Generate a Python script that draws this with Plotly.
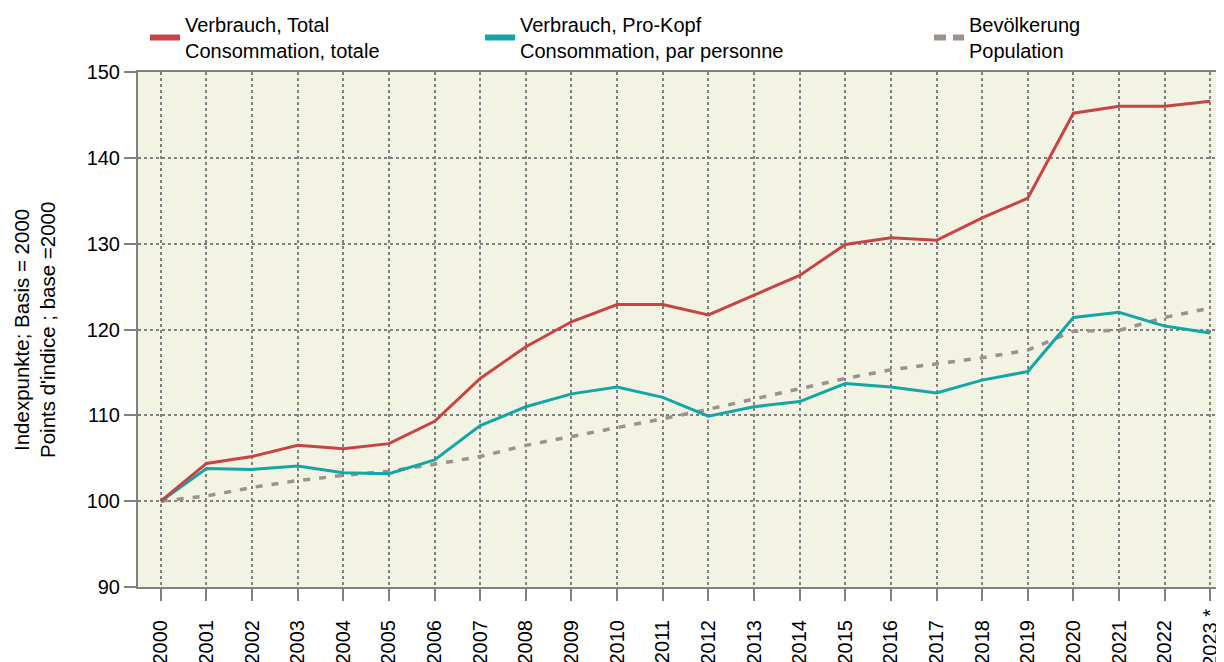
import plotly.graph_objects as go

years = ["2000", "2001", "2002", "2003", "2004", "2005", "2006", "2007", "2008", "2009", "2010", "2011",
         "2012", "2013", "2014", "2015", "2016", "2017", "2018", "2019", "2020", "2021", "2022", "2023 *"]
total = [100.0, 104.4, 105.2, 106.5, 106.1, 106.7, 109.3, 114.3, 118.0, 120.9, 122.9, 122.9,
         121.7, 124.0, 126.3, 129.9, 130.7, 130.4, 133.0, 135.3, 145.2, 146.0, 146.0, 146.6]
per_capita = [100.0, 103.8, 103.7, 104.1, 103.3, 103.2, 104.8, 108.8, 111.0, 112.5, 113.3, 112.1,
              109.9, 111.0, 111.6, 113.7, 113.3, 112.6, 114.1, 115.1, 121.4, 122.0, 120.4, 119.6]
population = [100.0, 100.6, 101.6, 102.4, 103.0, 103.5, 104.3, 105.2, 106.5, 107.5, 108.5, 109.6,
              110.7, 111.9, 113.1, 114.3, 115.3, 116.0, 116.7, 117.6, 119.8, 119.9, 121.4, 122.5]

names = ["Verbrauch, Total<br>Consommation, totale",
         "Verbrauch, Pro-Kopf<br>Consommation, par personne",
         "Bevölkerung<br>Population"]
colors = ["#C84444", "#13A6A6", "#9C918D"]
y_title = ["Indexpunkte; Basis = 2000", "Points d'indice ; base =2000"]

FONT = "Liberation Sans, Arial, sans-serif"
x_idx = list(range(len(years)))
# pad labels so that the year digits line up like in the original (the last one carries " *")
tick_text = [y if "*" in y else y + "\u00a0\u00a0" for y in years]

# the page body adds an 8px offset; figure is sized so that it fills the 1224x662 window
OFF = 8
W, H = 1224 - OFF, 662 - OFF
L, R, T, B = 138 - OFF, 0, 72 - OFF, 75
PW, PH = W - L - R, H - T - B
PLOT_LEFT_PAGE, PLOT_BOTTOM_PAGE = 138, 587

fig = go.Figure()
# data lines (not in legend)
fig.add_trace(go.Scatter(x=x_idx, y=population, mode="lines", name=names[2], showlegend=False,
                         line=dict(color=colors[2], width=3.5, dash="7px,9px")))
fig.add_trace(go.Scatter(x=x_idx, y=per_capita, mode="lines", name=names[1], showlegend=False,
                         line=dict(color=colors[1], width=3)))
fig.add_trace(go.Scatter(x=x_idx, y=total, mode="lines", name=names[0], showlegend=False,
                         line=dict(color=colors[0], width=3)))
# legend entries with thicker keys
fig.add_trace(go.Scatter(x=[None], y=[None], mode="lines", name=names[0], legend="legend",
                         line=dict(color=colors[0], width=6), hoverinfo="skip"))
fig.add_trace(go.Scatter(x=[None], y=[None], mode="lines", name=names[1], legend="legend2",
                         line=dict(color=colors[1], width=6), hoverinfo="skip"))
fig.add_trace(go.Scatter(x=[None], y=[None], mode="lines", name=names[2], legend="legend3",
                         line=dict(color=colors[2], width=6, dash="12px,7px"), hoverinfo="skip"))

def px_x(xpage):
    return (xpage - PLOT_LEFT_PAGE) / PW

def px_y(ypage):
    return (PLOT_BOTTOM_PAGE - ypage) / PH

def leg(xpage):
    return dict(x=px_x(xpage), y=px_y(5), xanchor="left", yanchor="top",
                orientation="h", bgcolor="rgba(0,0,0,0)", visible=True,
                font=dict(family=FONT, size=20, color="#000000"))

annotations = []
for txt, xpage in zip(y_title, [21, 47]):
    annotations.append(dict(text=txt, textangle=-90, xref="paper", yref="paper",
                            x=px_x(xpage), y=px_y(330), xanchor="center", yanchor="middle",
                            showarrow=False, font=dict(family=FONT, size=20.5, color="#000000")))

fig.update_layout(
    width=W, height=H,
    margin=dict(l=L, r=R, t=T, b=B, autoexpand=False),
    paper_bgcolor="white",
    plot_bgcolor="#F3F3E3",
    showlegend=True,
    font=dict(family=FONT, size=20, color="#000000"),
    legend=leg(145),
    legend2=leg(480),
    legend3=leg(929),
    annotations=annotations,
    xaxis=dict(
        tickmode="array", tickvals=x_idx, ticktext=tick_text, tickangle=-90,
        range=[-0.5, 23.3], automargin=False,
        showline=True, linecolor="#808080", linewidth=2, mirror=True,
        ticks="outside", ticklen=12, tickwidth=2, tickcolor="#808080",
        showgrid=True, gridcolor="#808080", griddash="dot", gridwidth=1.5,
        zeroline=False, tickfont=dict(family=FONT, size=20),
    ),
    yaxis=dict(
        range=[90, 150], tickvals=[90, 100, 110, 120, 130, 140, 150], automargin=False,
        showline=True, linecolor="#808080", linewidth=2,
        ticks="outside", ticklen=12, tickwidth=2, tickcolor="#808080",
        showgrid=True, gridcolor="#808080", griddash="dot", gridwidth=1.5,
        zeroline=False, tickfont=dict(family=FONT, size=20),
    ),
)

fig.write_html("out.html")
